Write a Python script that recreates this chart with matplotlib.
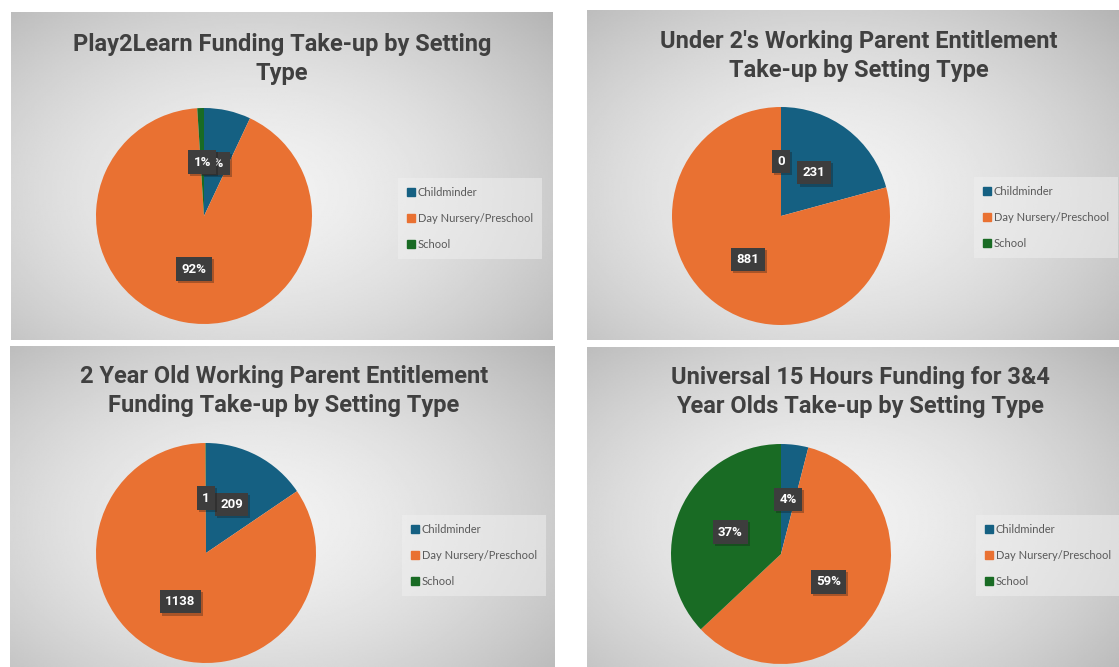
import matplotlib
matplotlib.use("Agg")
import matplotlib.pyplot as plt
import matplotlib.patheffects as pe
from matplotlib.lines import Line2D
import numpy as np

W, H = 1119, 667

categories = ["Childminder", "Day Nursery/Preschool", "School"]
colors = ["#156082", "#E97132", "#196B24"]

titles = [
    "Play2Learn Funding Take-up by Setting\nType",
    "Under 2's Working Parent Entitlement\nTake-up by Setting Type",
    "2 Year Old Working Parent Entitlement\nFunding Take-up by Setting Type",
    "Universal 15 Hours Funding for 3&4\nYear Olds Take-up by Setting Type",
]

play2learn_pct = [7, 92, 1]
under2_counts = [231, 881, 0]
two_year_counts = [209, 1138, 1]
universal15_pct = [4, 59, 37]

# panel boxes in pixels: x0, y0, x1, y1
panels = [(11, 12, 552, 340), (587, 10, 1119, 340),
          (10, 346, 555, 667), (587, 347, 1119, 667)]
pie_centers = [(204, 216, 108), (781, 216, 109), (206, 553, 110), (781, 554, 110)]
title_pos = [(282, 59), (859, 56), (284, 391), (860, 392)]
legend_pos = [(398, 178), (974, 177), (402, 515), (976, 515)]


def px_axes(fig, x0, y0, x1, y1):
    return fig.add_axes([x0 / W, 1 - y1 / H, (x1 - x0) / W, (y1 - y0) / H])


def count_fmt(values):
    total = sum(values)
    return lambda p: "%d" % round(p * total / 100.0)


fig = plt.figure(figsize=(W / 100, H / 100), dpi=100)
fig.patch.set_facecolor("white")

datasets = [
    (play2learn_pct, "%.0f%%"),
    (under2_counts, count_fmt(under2_counts)),
    (two_year_counts, count_fmt(two_year_counts)),
    (universal15_pct, "%.0f%%"),
]

for i, (x0, y0, x1, y1) in enumerate(panels):
    # gradient background
    bg = px_axes(fig, x0, y0, x1, y1)
    gx, gy = np.meshgrid(np.linspace(-1, 1, 300), np.linspace(-1, 1, 200))
    r = np.sqrt(((gx + 0.1) / 1.1) ** 2 + ((gy - 0.1) / 1.2) ** 2)
    shade = 0.95 - 0.15 * np.clip(r, 0, 1.4) ** 1.6
    bg.imshow(shade, cmap="gray", vmin=0, vmax=1, aspect="auto",
              extent=[0, 1, 0, 1], interpolation="bilinear")
    bg.set_xlim(0, 1)
    bg.set_ylim(0, 1)
    bg.axis("off")

    fig.text(title_pos[i][0] / W, 1 - title_pos[i][1] / H, titles[i],
             ha="center", va="center", fontsize=17, fontweight="bold",
             color="#404040", linespacing=1.3,
             family=["Roboto", "DejaVu Sans"])

    cx, cy, rad = pie_centers[i]
    ax = px_axes(fig, cx - rad, cy - rad, cx + rad, cy + rad)
    values, fmt = datasets[i]
    wedges, texts, autotexts = ax.pie(
        values, colors=colors, startangle=90, counterclock=False,
        radius=1, autopct=fmt, pctdistance=0.5,
        wedgeprops=dict(linewidth=0),
        textprops=dict(color="white", fontsize=9.5, fontweight="bold",
                       family=["Roboto", "DejaVu Sans"]))
    for t in autotexts:
        t.set_bbox(dict(boxstyle="square,pad=0.4", fc="#3d3d3d", ec="none"))
        t.get_bbox_patch().set_path_effects(
            [pe.SimplePatchShadow(offset=(1.5, -1.5), alpha=0.3), pe.Normal()])
    ax.set_xlim(-1, 1)
    ax.set_ylim(-1, 1)
    ax.set_aspect("equal")
    ax.axis("off")

    handles = [Line2D([], [], marker="s", linestyle="none", markersize=5.5,
                      markerfacecolor=c, markeredgecolor=c) for c in colors]
    lx, ly = legend_pos[i]
    leg = fig.legend(handles, categories, loc="upper left",
                     bbox_to_anchor=(lx / W, 1 - ly / H),
                     frameon=True, fancybox=False, borderaxespad=0,
                     labelspacing=1.35, handlelength=0.7,
                     handletextpad=0.3, borderpad=0.8,
                     prop=dict(family=["Lato", "DejaVu Sans"], size=8))
    leg.get_frame().set_facecolor("#f0f0f0")
    leg.get_frame().set_alpha(0.5)
    leg.get_frame().set_linewidth(0)
    for t in leg.get_texts():
        t.set_color("#595959")

fig.savefig("out.png", dpi=100)
